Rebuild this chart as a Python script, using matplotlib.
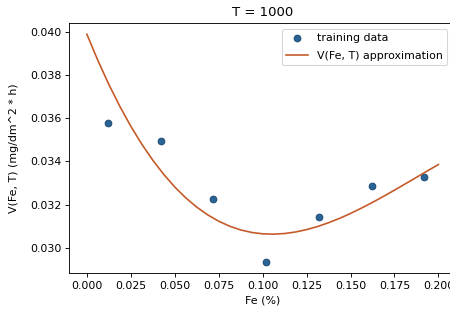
import matplotlib
matplotlib.use("Agg")
import matplotlib.pyplot as plt

# training data
fe_train = [0.012, 0.042, 0.072, 0.102, 0.132, 0.162, 0.192]
v_train = [0.03579, 0.03494, 0.03225, 0.02932, 0.03142, 0.03285, 0.03327]

# approximation curve
fe_curve = [0.0, 0.00625, 0.0125, 0.01875, 0.025, 0.03125, 0.0375, 0.04375,
            0.05, 0.05625, 0.0625, 0.06875, 0.075, 0.08125, 0.0875, 0.09375,
            0.1, 0.10625, 0.1125, 0.11875, 0.125, 0.13125, 0.1375, 0.14375,
            0.15, 0.15625, 0.1625, 0.16875, 0.175, 0.18125, 0.1875, 0.19375,
            0.2]
v_curve = [0.03988, 0.038667, 0.037555, 0.036541, 0.035621, 0.034791,
           0.034049, 0.033390, 0.032811, 0.032308, 0.031879, 0.031520,
           0.031226, 0.030996, 0.030823, 0.030707, 0.030643, 0.030627,
           0.030657, 0.030728, 0.030838, 0.030981, 0.031157, 0.031358,
           0.031586, 0.031834, 0.032098, 0.032376, 0.032664, 0.032960,
           0.033257, 0.033557, 0.03385]

DPI = 79.2
fig = plt.figure(figsize=(450 / DPI, 312 / DPI), dpi=DPI)
ax = fig.add_axes([69.3 / 450, 1 - 273 / 312, (456 - 69.3) / 450, (273 - 23) / 312])

ax.plot(fe_train, v_train, 'o', color='#2a6496', markeredgecolor='#1f4f7a',
        markersize=6, label='training data')
ax.plot(fe_curve, v_curve, '-', color='#c45a28', linewidth=1.5,
        label='V(Fe, T) approximation')

ax.set_xlim(-0.01, 0.21)
ax.set_ylim(0.02883, 0.0404)
ax.set_xticks([0.0, 0.025, 0.05, 0.075, 0.1, 0.125, 0.15, 0.175, 0.2])
ax.set_yticks([0.030, 0.032, 0.034, 0.036, 0.038, 0.040])
ax.set_xticklabels(['0.000', '0.025', '0.050', '0.075', '0.100', '0.125',
                    '0.150', '0.175', '0.200'])
ax.set_yticklabels(['0.030', '0.032', '0.034', '0.036', '0.038', '0.040'])
ax.set_title('T = 1000', fontsize=12)
ax.set_xlabel('Fe (%)')
ax.set_ylabel('V(Fe, T) (mg/dm^2 * h)', labelpad=10)
ax.legend(loc='upper right', bbox_to_anchor=(447 / 450, 1 - 29 / 312),
          bbox_transform=fig.transFigure, borderaxespad=0, labelspacing=0.7)

fig.savefig('out.png', dpi=DPI)
